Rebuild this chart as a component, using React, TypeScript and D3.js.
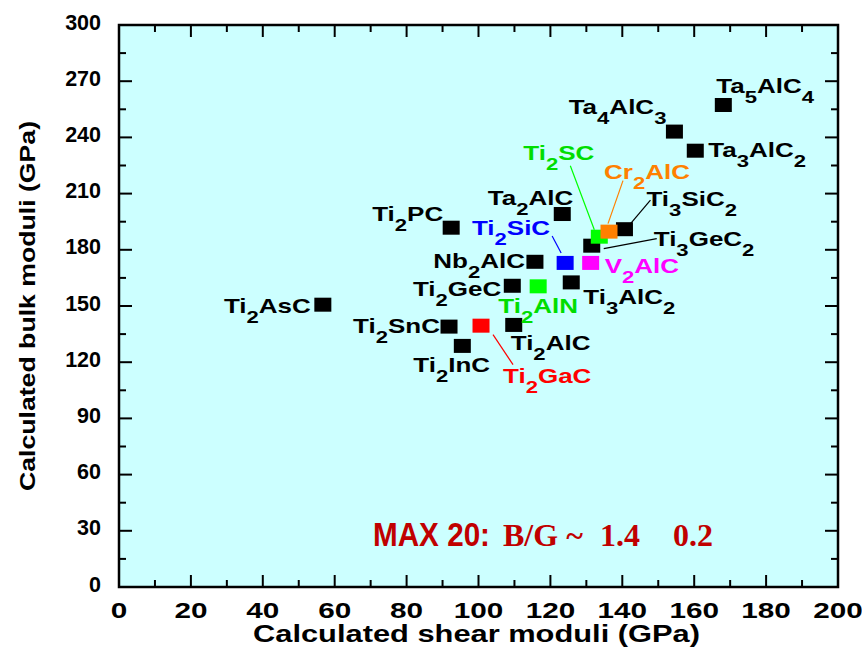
import React from 'react';
import * as d3 from 'd3';

// compounds of the MAX phase family
const compounds = ['Ti2AsC', 'Ti2PC', 'Ta2AlC', 'Nb2AlC', 'Ti2SiC', 'V2AlC', 'Ti2GeC', 'Ti2AlN', 'Ti3AlC2', 'Ti2SnC',
    'Ti2GaC', 'Ti2AlC', 'Ti2InC', 'Ti3GeC2', 'Ti2SC', 'Cr2AlC', 'Ti3SiC2', 'Ta4AlC3', 'Ta3AlC2', 'Ta5AlC4'];
const shearModuli = [56.7, 92.4, 123.3, 115.7, 124.1, 131.2, 109.4, 116.6, 125.8, 91.8,
    100.7, 109.8, 95.5, 131.5, 133.6, 136.3, 140.6, 154.5, 160.3, 168.1];
const bulkModuli = [150.7, 191.8, 199.1, 173.6, 173.0, 173.0, 160.8, 160.5, 162.6, 139.0,
    139.5, 139.9, 128.7, 182.2, 187.0, 189.7, 191.0, 243.1, 232.9, 257.3];

const highlighted = ['Ti2SiC', 'V2AlC', 'Ti2AlN', 'Ti2GaC', 'Ti2SC', 'Cr2AlC'];
const xTicks = d3.range(0, 201, 20);
const yTicks = d3.range(0, 301, 30);

const markColor = { Ti2SiC: '#0000ff', V2AlC: '#ff00ff', Ti2AlN: '#00ff00', Ti2GaC: '#ff0000', Ti2SC: '#00ff00', Cr2AlC: '#ff8000' };
const textColor = { Ti2SiC: '#0000ff', V2AlC: '#ff00ff', Ti2AlN: '#00dd00', Ti2GaC: '#ff0000', Ti2SC: '#00dd00', Cr2AlC: '#ff8000' };

// label placement relative to the marker, in px: [anchor, dx, dy, leader line]
const labelLayout = {
    Ti2AsC: ['end', -12, 8],
    Ti2PC: ['end', -8, -7],
    Ta2AlC: ['end', 11, -9],
    Nb2AlC: ['end', -10, 6],
    Ti2SiC: ['end', -15, -28, [-13, -27, -4, -10]],
    V2AlC: ['start', 14, 10],
    Ti2GeC: ['end', -11, 10],
    Ti2AlN: ['middle', 0, 27],
    Ti3AlC2: ['start', 12, 22],
    Ti2SnC: ['end', -9, 6],
    Ti2GaC: ['start', 22, 57, [12, 9, 32, 39]],
    Ti2AlC: ['start', -3, 25],
    Ti2InC: ['start', -49, 26],
    Ti3GeC2: ['start', 62, 0, [12, 3, 65, -7]],
    Ti2SC: ['start', -76, -77, [-29, -71, -5, -7]],
    Cr2AlC: ['start', -5, -53, [14, -51, -1, -8]],
    Ti3SiC2: ['start', 22, -23, [26, -29, 4, -3]],
    Ta4AlC3: ['end', -8, -18],
    Ta3AlC2: ['start', 13, 6],
    Ta5AlC4: ['start', -7, -12],
};

const sans = '"Liberation Sans", Arial, sans-serif';
const serif = '"Liberation Serif", "Times New Roman", serif';

const Formula = ({ name, x, y, anchor, color }) => {
    const parts = name.match(/\d+|\D+/g);
    let inSub = false;
    return (
        <text transform={`translate(${x},${y}) scale(1.3,1)`} textAnchor={anchor} fill={color}
              fontFamily={sans} fontWeight="bold" fontSize={20}>
            {parts.map((p, i) => {
                const sub = /\d/.test(p);
                let dy = 0;
                if (sub && !inSub) dy = 10;
                if (!sub && inSub) dy = -10;
                inSub = sub;
                return <tspan key={i} dy={dy} fontSize={sub ? 17 : 20}>{p}</tspan>;
            })}
        </text>
    );
};

const App = () => {
    const width = 862;
    const height = 648;
    const margin = { top: 25, right: 24, bottom: 61, left: 119 };

    const x = d3.scaleLinear().domain([0, 200]).range([margin.left, width - margin.right]);
    const y = d3.scaleLinear().domain([0, 300]).range([height - margin.bottom, margin.top]);
    const [x0, x1] = x.range();
    const [y0, y1] = y.range();

    const points = compounds.map((c, i) => ({ name: c, g: shearModuli[i], b: bulkModuli[i], hi: highlighted.includes(c) }));
    const drawOrder = [...points.filter(p => !p.hi), ...points.filter(p => p.hi)];

    const xMinor = d3.range(0, 201, 10);
    const yMinor = d3.range(0, 301, 15);

    return (
        <svg width={width} height={height} style={{ position: 'absolute', left: 0, top: 0 }}>
            <rect x={0} y={0} width={width} height={height} fill="white" />
            <rect x={x0} y={y1} width={x1 - x0} height={y0 - y1} fill="#ccffff" />

            {/* ticks, all pointing inward on the four sides */}
            <g stroke="black" strokeWidth={2}>
                {xMinor.map(t => {
                    const len = t % 20 === 0 ? 12 : 7;
                    return (
                        <g key={'x' + t}>
                            <line x1={x(t)} x2={x(t)} y1={y0} y2={y0 - len} />
                            <line x1={x(t)} x2={x(t)} y1={y1} y2={y1 + len} />
                        </g>
                    );
                })}
                {yMinor.map(t => {
                    const len = t % 30 === 0 ? 13 : 7;
                    return (
                        <g key={'y' + t}>
                            <line x1={x0} x2={x0 + len} y1={y(t)} y2={y(t)} />
                            <line x1={x1} x2={x1 - len} y1={y(t)} y2={y(t)} />
                        </g>
                    );
                })}
            </g>
            <rect x={x0} y={y1} width={x1 - x0} height={y0 - y1} fill="none" stroke="black" strokeWidth={2.5} />

            {xTicks.map(t => (
                <text key={t} transform={`translate(${x(t)},${y0 + 31}) scale(1.35,1)`} textAnchor="middle"
                      fontFamily={sans} fontWeight="bold" fontSize={22}>{t}</text>
            ))}
            {yTicks.map(t => (
                <text key={t} x={x0 - 18} y={y(t) + 4.5} textAnchor="end"
                      fontFamily={sans} fontWeight="bold" fontSize={21.5}>{t}</text>
            ))}

            <text x={(x0 + x1) / 2 - 2} y={642} textAnchor="middle" fontFamily={sans} fontWeight="bold" fontSize={23}
                  textLength={447} lengthAdjust="spacingAndGlyphs">Calculated shear moduli (GPa)</text>
            <text transform={`translate(35,${(y0 + y1) / 2}) rotate(-90)`} textAnchor="middle" fontFamily={sans}
                  fontWeight="bold" fontSize={22} textLength={370} lengthAdjust="spacingAndGlyphs">
                Calculated bulk moduli (GPa)
            </text>

            {/* leader lines */}
            {points.map(p => {
                const lay = labelLayout[p.name];
                if (!lay[3]) return null;
                const [a, b, c, d] = lay[3];
                return (
                    <line key={'l' + p.name} x1={x(p.g) + a} y1={y(p.b) + b} x2={x(p.g) + c} y2={y(p.b) + d}
                          stroke={textColor[p.name] ? markColor[p.name] : 'black'} strokeWidth={1.2} />
                );
            })}

            {drawOrder.map(p => (
                <rect key={p.name} x={x(p.g) - 8.5} y={y(p.b) - 7} width={17} height={14}
                      fill={markColor[p.name] || 'black'} />
            ))}

            {points.map(p => {
                const [anchor, dx, dy] = labelLayout[p.name];
                return (
                    <Formula key={'t' + p.name} name={p.name} x={x(p.g) + dx} y={y(p.b) + dy}
                             anchor={anchor} color={textColor[p.name] || 'black'} />
                );
            })}

            <g fill="#c00000" fontWeight="bold">
                <text x={373} y={546} fontFamily={sans} fontSize={33} textLength={117} lengthAdjust="spacingAndGlyphs">MAX 20:</text>
                <text x={503} y={546} fontFamily={serif} fontSize={32}>B/G ~</text>
                <text x={600} y={546} fontFamily={serif} fontSize={32}>1.4</text>
                <text x={673} y={546} fontFamily={serif} fontSize={32}>0.2</text>
            </g>
        </svg>
    );
};

export default App;
